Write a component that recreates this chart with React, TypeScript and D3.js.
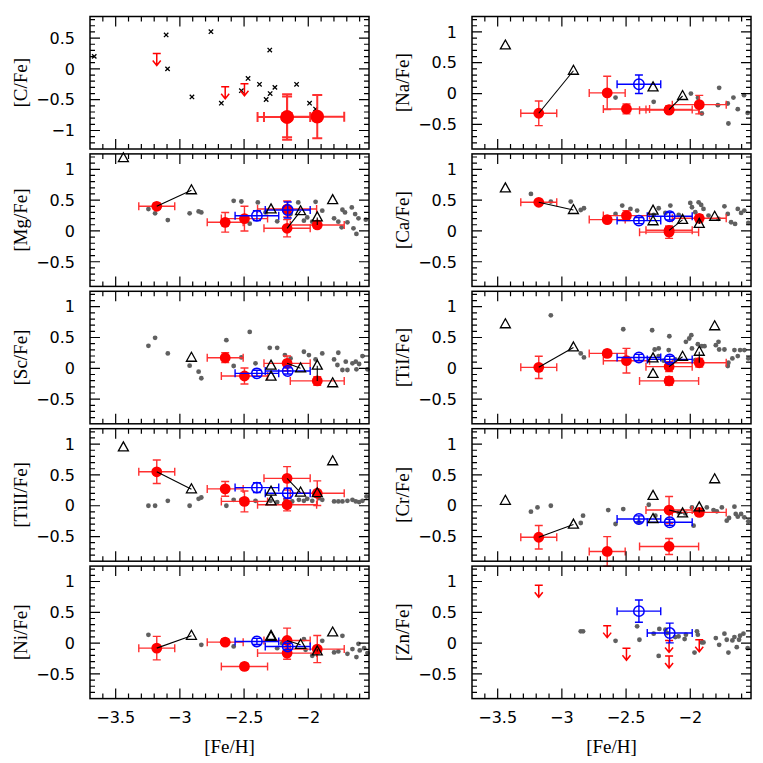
import React from "react";
import * as d3 from "d3";

// ---------- shared [Fe/H] of the stars ----------
const FEH_RED = [-3.18, -2.647, -2.497, -2.165, -2.165, -1.93];
const FEH_RED_ERR = [0.14, 0.14, 0.18, 0.23, 0.18, 0.21];
const FEH_BLUE = [-2.40, -2.16];
const FEH_BLUE_ERR = [0.17, 0.175];
const FEH_LIT = [-3.44, -2.91, -2.29, -2.29, -2.06, -1.93, -1.81];
const LINK_PAIRS = [[0, 1], [4, 4], [5, 5]];

const X_TICKS = [-3.5, -3, -2.5, -2];
const Y_TICKS = [-0.5, 0, 0.5, 1];
const C_Y_TICKS = [-1, -0.5, 0, 0.5];

// ---------- [C/Fe] ----------
const C_RED = [null, null, null, -0.78, -0.78, -0.775];
const C_RED_ERR = [0, 0, 0, 0.37, 0.33, 0.35];
const C_UL = [0.25, -0.29, -0.24, null, null, null];
const C_CROSS = [
  [-3.667, 0.203], [-3.107, 0.551], [-3.096, 0.0], [-2.758, 0.604], [-2.906, -0.455],
  [-2.677, -0.556], [-2.521, -0.353], [-2.469, -0.155], [-2.38, -0.251], [-2.3, 0.305],
  [-2.26, -0.3], [-2.297, -0.4], [-2.328, -0.497], [-2.091, -0.251], [-1.99, -0.556],
  [-1.943, -0.652],
];

// ---------- [Na/Fe] ----------
const NA_RED = [-0.32, 0.01, -0.25, -0.27, -0.26, -0.18];
const NA_RED_ERR = [0.2, 0.27, 0.08, 0.05, 0.06, 0.15];
const NA_BLUE = [0.151, null];
const NA_BLUE_ERR = [0.15, 0];
const NA_LIT = [0.78, 0.37, 0.1, null, -0.04, null, null];
const NA_GREY = [
  [-2.582, -0.065], [-2.285, -0.135], [-1.995, 0.0], [-1.94, -0.07], [-1.93, -0.216],
  [-1.91, -0.324], [-1.775, 0.092], [-1.785, -0.189], [-1.708, -0.162], [-1.664, -0.065],
  [-1.703, -0.486], [-1.63, -0.254], [-1.581, -0.027], [-1.553, -0.314],
];

// ---------- [Mg/Fe] ----------
const MG_RED = [0.4, 0.14, 0.2, 0.355, 0.043, 0.097];
const MG_RED_ERR = [0.05, 0.16, 0.2, 0.13, 0.14, 0.05];
const MG_BLUE = [0.247, 0.339];
const MG_BLUE_ERR = [0.08, 0.13];
const MG_LIT = [1.18, 0.66, 0.35, null, 0.32, 0.22, 0.5];
const MG_GREY = [
  [-3.245, 0.355], [-3.193, 0.285], [-3.094, 0.177], [-2.924, 0.285], [-2.854, 0.317],
  [-2.833, 0.301], [-2.581, 0.489], [-2.521, 0.478], [-2.393, 0.462], [-2.456, 0.118],
  [-2.333, 0.301], [-2.242, 0.156], [-2.138, 0.274], [-2.078, 0.462], [-2.034, 0.167],
  [-2.008, 0.22], [-1.943, 0.473], [-1.969, 0.151], [-1.891, 0.328], [-1.799, 0.204],
  [-1.766, 0.151], [-1.734, 0.344], [-1.714, 0.301], [-1.74, 0.059], [-1.661, 0.382],
  [-1.635, 0.274], [-1.648, 0.043], [-1.695, 0.14], [-1.625, -0.048], [-1.609, 0.204],
  [-1.552, 0.183],
];

// ---------- [Ca/Fe] ----------
const CA_RED = [0.465, 0.184, 0.249, -0.02, 0.01, 0.205];
const CA_RED_ERR = [0.04, 0.04, 0.08, 0.1, 0.06, 0.06];
const CA_BLUE = [0.168, 0.238];
const CA_BLUE_ERR = [0.05, 0.06];
const CA_LIT = [0.69, 0.34, 0.33, 0.157, 0.18, 0.114, 0.23];
const CA_GREY = [
  [-3.241, 0.6], [-3.086, 0.476], [-2.931, 0.476], [-2.853, 0.34], [-2.828, 0.368],
  [-2.582, 0.276], [-2.53, 0.411], [-2.466, 0.357], [-2.414, 0.33], [-2.285, 0.26],
  [-2.246, 0.368], [-2.194, 0.292], [-2.155, 0.411], [-2.09, 0.26], [-2.0, 0.454],
  [-1.987, 0.384], [-1.961, 0.303], [-1.935, 0.465], [-1.915, 0.422], [-1.897, 0.357],
  [-1.858, 0.249], [-1.78, 0.195], [-1.734, 0.4], [-1.708, 0.276], [-1.682, 0.141],
  [-1.651, 0.114], [-1.63, 0.357], [-1.604, 0.292], [-1.579, 0.33], [-1.548, 0.13],
];

// ---------- [Sc/Fe] ----------
const SC_RED = [null, 0.172, -0.124, null, 0.081, -0.204];
const SC_RED_ERR = [0, 0.08, 0.13, 0, 0.12, 0.07];
const SC_BLUE = [-0.081, -0.043];
const SC_BLUE_ERR = [0.05, 0.05];
const SC_LIT = [null, 0.172, 0.043, -0.134, 0.0, 0.043, -0.242];
const SC_GREY = [
  [-3.245, 0.366], [-3.193, 0.495], [-3.094, 0.242], [-2.924, 0.043], [-2.854, -0.054],
  [-2.833, -0.161], [-2.638, 0.457], [-2.581, 0.038], [-2.521, 0.177], [-2.456, 0.591],
  [-2.411, 0.081], [-2.3, 0.333], [-2.242, 0.333], [-2.182, 0.215], [-2.138, 0.161],
  [-2.034, 0.269], [-1.995, 0.215], [-1.943, 0.145], [-1.891, 0.242], [-1.799, 0.145],
  [-1.773, 0.054], [-1.766, 0.253], [-1.734, -0.027], [-1.695, -0.027], [-1.708, 0.108],
  [-1.656, 0.081], [-1.63, 0.108], [-1.604, 0.07], [-1.578, 0.199], [-1.625, -0.016],
  [-1.539, -0.016],
];

// ---------- [TiI/Fe] ----------
const TI_RED = [0.016, 0.242, 0.124, -0.204, 0.027, 0.091];
const TI_RED_ERR = [0.18, 0.05, 0.2, 0.07, 0.08, 0.07];
const TI_BLUE = [0.177, 0.145];
const TI_BLUE_ERR = [0.05, 0.05];
const TI_LIT = [0.715, 0.339, 0.161, -0.091, 0.188, 0.269, 0.683];
const TI_GREY = [
  [-3.086, 0.86], [-2.853, 0.242], [-2.828, 0.177], [-2.522, 0.634], [-2.297, 0.618],
  [-2.277, 0.306], [-2.246, 0.323], [-2.246, 0.199], [-2.207, 0.124], [-2.168, 0.296],
  [-2.163, 0.521], [-2.117, 0.145], [-2.034, 0.43], [-2.008, 0.484], [-1.992, 0.538],
  [-1.987, 0.323], [-1.961, 0.134], [-1.941, 0.392], [-1.91, 0.36], [-1.889, 0.36],
  [-1.801, 0.376], [-1.78, 0.43], [-1.775, 0.306], [-1.734, 0.306], [-1.708, 0.038],
  [-1.703, 0.091], [-1.672, 0.161], [-1.63, 0.199], [-1.656, 0.296], [-1.612, 0.296],
  [-1.579, 0.296], [-1.548, 0.161],
];

// ---------- [TiII/Fe] ----------
const TI2_RED = [0.551, 0.273, 0.07, 0.016, 0.444, 0.203];
const TI2_RED_ERR = [0.19, 0.12, 0.17, 0.1, 0.19, 0.2];
const TI2_BLUE = [0.294, 0.203];
const TI2_BLUE_ERR = [0.08, 0.08];
const TI2_LIT = [0.947, 0.267, 0.23, 0.07, 0.214, 0.203, 0.722];
const TI2_GREY = [
  [-3.245, 0.0], [-3.193, 0.0], [-3.094, 0.08], [-2.924, 0.0], [-2.854, 0.112],
  [-2.833, 0.134], [-2.638, 0.0], [-2.581, 0.096], [-2.521, 0.096], [-2.411, 0.08],
  [-2.294, 0.08], [-2.242, 0.059], [-2.177, 0.096], [-2.125, 0.07], [-2.073, 0.096],
  [-2.034, 0.08], [-2.008, 0.112], [-1.969, 0.08], [-1.917, 0.123], [-1.891, 0.096],
  [-1.799, 0.07], [-1.766, 0.07], [-1.734, 0.07], [-1.695, 0.08], [-1.656, 0.096],
  [-1.63, 0.07], [-1.604, 0.059], [-1.578, 0.08], [-1.547, 0.15],
];

// ---------- [Cr/Fe] ----------
const CR_RED = [-0.511, -0.742, null, -0.661, -0.07, -0.108];
const CR_RED_ERR = [0.19, 0.24, 0, 0.13, 0.22, 0.05];
const CR_BLUE = [-0.215, -0.269];
const CR_BLUE_ERR = [0.05, 0.05];
const CR_LIT = [0.08, -0.306, 0.161, -0.215, -0.124, -0.027, 0.43];
const CR_GREY = [
  [-3.241, -0.097], [-3.19, -0.027], [-3.086, 0.0], [-2.853, -0.28], [-2.835, -0.161],
  [-2.639, -0.07], [-2.582, -0.296], [-2.522, -0.054], [-2.401, -0.269], [-2.323, 0.016],
  [-2.272, -0.161], [-2.09, -0.108], [-2.039, -0.124], [-1.987, -0.027], [-1.974, -0.323],
  [-1.961, -0.091], [-1.91, -0.07], [-1.871, -0.027], [-1.819, -0.07], [-1.793, -0.091],
  [-1.754, -0.027], [-1.716, -0.242], [-1.698, -0.199], [-1.656, -0.016], [-1.646, -0.134],
  [-1.63, -0.177], [-1.604, -0.134], [-1.579, -0.188], [-1.548, -0.253],
];

// ---------- [Ni/Fe] ----------
const NI_RED = [-0.081, 0.016, -0.378, -0.162, 0.043, -0.097];
const NI_RED_ERR = [0.19, 0.05, 0.05, 0.1, 0.2, 0.22];
const NI_BLUE = [0.027, -0.054];
const NI_BLUE_ERR = [0.05, 0.05];
const NI_LIT = [null, 0.119, 0.119, 0.1, -0.027, -0.135, 0.173];
const NI_GREY = [
  [-3.245, 0.135], [-2.833, -0.027], [-2.581, -0.054], [-2.242, -0.081], [-2.203, 0.0],
  [-2.034, 0.065], [-2.021, -0.108], [-1.969, -0.205], [-1.891, 0.038], [-1.799, -0.151],
  [-1.766, -0.135], [-1.734, 0.119], [-1.695, -0.173], [-1.656, -0.097], [-1.625, -0.227],
  [-1.609, -0.011], [-1.599, -0.119], [-1.565, -0.081], [-1.539, -0.162],
];

// ---------- [Zn/Fe] ----------
const ZN_UL = [0.94, 0.284, -0.082, 0.044, -0.208, 0.055];
const ZN_BLUE = [0.519, 0.164];
const ZN_BLUE_ERR = [0.18, 0.16];
const ZN_GREY = [
  [-2.853, 0.191], [-2.835, 0.191], [-2.582, 0.038], [-2.414, 0.273], [-2.396, 0.055],
  [-2.285, 0.153], [-2.246, -0.208], [-2.241, 0.23], [-2.194, 0.219], [-2.181, 0.164],
  [-2.117, 0.098], [-2.091, 0.109], [-2.044, 0.066], [-2.034, 0.137], [-1.967, -0.153],
  [-1.948, 0.191], [-1.941, 0.137], [-1.91, 0.011], [-1.897, 0.011], [-1.801, 0.082],
  [-1.775, -0.027], [-1.734, 0.153], [-1.716, 0.055], [-1.703, -0.153], [-1.672, 0.044],
  [-1.656, 0.098], [-1.638, -0.066], [-1.62, 0.055], [-1.612, 0.12], [-1.586, 0.153],
  [-1.553, -0.082],
];

type Panel = {
  label: string;
  yDomain: [number, number];
  yTicks: number[];
  red?: (number | null)[];
  redErr?: number[];
  ul?: (number | null)[];
  blue?: (number | null)[];
  blueErr?: number[];
  lit?: (number | null)[];
  grey?: number[][];
  cross?: number[][];
  big?: boolean;
};

const PANELS: Panel[] = [
  { label: "[C/Fe]", yDomain: [-1.3, 0.85], yTicks: C_Y_TICKS, red: C_RED, redErr: C_RED_ERR, ul: C_UL, cross: C_CROSS, big: true },
  { label: "[Na/Fe]", yDomain: [-0.9, 1.25], yTicks: Y_TICKS, red: NA_RED, redErr: NA_RED_ERR, blue: NA_BLUE, blueErr: NA_BLUE_ERR, lit: NA_LIT, grey: NA_GREY },
  { label: "[Mg/Fe]", yDomain: [-0.9, 1.25], yTicks: Y_TICKS, red: MG_RED, redErr: MG_RED_ERR, blue: MG_BLUE, blueErr: MG_BLUE_ERR, lit: MG_LIT, grey: MG_GREY },
  { label: "[Ca/Fe]", yDomain: [-0.9, 1.25], yTicks: Y_TICKS, red: CA_RED, redErr: CA_RED_ERR, blue: CA_BLUE, blueErr: CA_BLUE_ERR, lit: CA_LIT, grey: CA_GREY },
  { label: "[Sc/Fe]", yDomain: [-0.9, 1.25], yTicks: Y_TICKS, red: SC_RED, redErr: SC_RED_ERR, blue: SC_BLUE, blueErr: SC_BLUE_ERR, lit: SC_LIT, grey: SC_GREY },
  { label: "[TiI/Fe]", yDomain: [-0.9, 1.25], yTicks: Y_TICKS, red: TI_RED, redErr: TI_RED_ERR, blue: TI_BLUE, blueErr: TI_BLUE_ERR, lit: TI_LIT, grey: TI_GREY },
  { label: "[TiII/Fe]", yDomain: [-0.9, 1.25], yTicks: Y_TICKS, red: TI2_RED, redErr: TI2_RED_ERR, blue: TI2_BLUE, blueErr: TI2_BLUE_ERR, lit: TI2_LIT, grey: TI2_GREY },
  { label: "[Cr/Fe]", yDomain: [-0.9, 1.25], yTicks: Y_TICKS, red: CR_RED, redErr: CR_RED_ERR, blue: CR_BLUE, blueErr: CR_BLUE_ERR, lit: CR_LIT, grey: CR_GREY },
  { label: "[Ni/Fe]", yDomain: [-0.9, 1.25], yTicks: Y_TICKS, red: NI_RED, redErr: NI_RED_ERR, blue: NI_BLUE, blueErr: NI_BLUE_ERR, lit: NI_LIT, grey: NI_GREY },
  { label: "[Zn/Fe]", yDomain: [-0.9, 1.25], yTicks: Y_TICKS, ul: ZN_UL, blue: ZN_BLUE, blueErr: ZN_BLUE_ERR, grey: ZN_GREY },
];

// ---------- layout ----------
const X_DOMAIN: [number, number] = [-3.7, -1.527];
const COL_X = [90, 472];
const PW = 279;
const ROW_TOP = 16.5;
const ROW_STEP = 137.4;
const PH = 132.5;
const RED = "#ff0000";
const RED_BAR = "#ff3030";
const BLUE = "#0000ff";
const GREY = "#606060";
const NUM_FONT = "'DejaVu Sans', 'Liberation Sans', sans-serif";
const TITLE_FONT = "'Liberation Serif', 'DejaVu Serif', serif";

const fmt = (v: number) => (v < 0 ? "\u2212" + Math.abs(v) : String(v));

function PanelView({ p, col, row, bottom }: { p: Panel; col: number; row: number; bottom: boolean }) {
  const x0 = COL_X[col];
  const y0 = ROW_TOP + row * ROW_STEP;
  const x = d3.scaleLinear().domain(X_DOMAIN).range([x0, x0 + PW]);
  const y = d3.scaleLinear().domain(p.yDomain).range([y0 + PH, y0]);
  const big = !!p.big;
  const rRed = big ? 6.8 : 5.4;
  const sw = big ? 2 : 1.4;
  const cap = big ? 5 : 4;

  const xMinor = d3.range(-37, -15).map((v) => v / 10);
  const yMinor = d3.range(Math.ceil(p.yDomain[0] * 10), Math.floor(p.yDomain[1] * 10) + 1).map((v) => v / 10);
  const isMajor = (v: number) => Math.abs(v * 2 - Math.round(v * 2)) < 1e-6;

  const tickPaths: string[] = [];
  xMinor.forEach((v) => {
    const len = isMajor(v) ? 10 : 5;
    const px = x(v);
    if (px < x0 + 0.5 || px > x0 + PW - 0.5) return;
    tickPaths.push(`M${px},${y0 + PH}v${-len}`);
    tickPaths.push(`M${px},${y0}v${len}`);
  });
  yMinor.forEach((v) => {
    const len = isMajor(v) ? 10 : 5;
    const py = y(v);
    if (py < y0 + 0.5 || py > y0 + PH - 0.5) return;
    tickPaths.push(`M${x0},${py}h${len}`);
    tickPaths.push(`M${x0 + PW},${py}h${-len}`);
  });

  const elements: React.ReactNode[] = [];

  (p.grey || []).forEach((d, i) =>
    elements.push(<circle key={`g${i}`} cx={x(d[0])} cy={y(d[1])} r={2.4} fill={GREY} />)
  );
  (p.cross || []).forEach((d, i) => {
    const cx = x(d[0]), cy = y(d[1]), s = 2.2;
    elements.push(
      <path key={`c${i}`} d={`M${cx - s},${cy - s}L${cx + s},${cy + s}M${cx - s},${cy + s}L${cx + s},${cy - s}`} stroke="#000" strokeWidth={1.3} />
    );
  });

  const errorBars = (fx: number, ex: number, fy: number, ey: number, color: string, key: string) => {
    const cx = x(fx), cy = y(fy);
    const xl = x(fx - ex), xr = x(fx + ex);
    const parts = [`M${xl},${cy}H${xr}`, `M${xl},${cy - cap}v${2 * cap}`, `M${xr},${cy - cap}v${2 * cap}`];
    if (ey > 0) {
      const yt = y(fy + ey), yb = y(fy - ey);
      parts.push(`M${cx},${yt}V${yb}`, `M${cx - cap},${yt}h${2 * cap}`, `M${cx - cap},${yb}h${2 * cap}`);
    }
    return <path key={key} d={parts.join("")} stroke={color} strokeWidth={sw} fill="none" />;
  };

  (p.red || []).forEach((v, i) => {
    if (v == null) return;
    elements.push(errorBars(FEH_RED[i], FEH_RED_ERR[i], v, (p.redErr || [])[i] || 0, RED_BAR, `re${i}`));
  });
  (p.red || []).forEach((v, i) => {
    if (v == null) return;
    elements.push(<circle key={`rc${i}`} cx={x(FEH_RED[i])} cy={y(v)} r={rRed} fill={RED} />);
  });
  (p.ul || []).forEach((v, i) => {
    if (v == null) return;
    const cx = x(FEH_RED[i]), cy = y(v);
    const d = `M${cx - 4},${cy}h8M${cx},${cy}v12M${cx - 4},${cy + 7}L${cx},${cy + 12}L${cx + 4},${cy + 7}`;
    elements.push(<path key={`ul${i}`} d={d} stroke={RED} strokeWidth={1.5} fill="none" />);
  });
  (p.blue || []).forEach((v, i) => {
    if (v == null) return;
    elements.push(errorBars(FEH_BLUE[i], FEH_BLUE_ERR[i], v, (p.blueErr || [])[i] || 0, BLUE, `be${i}`));
    elements.push(<circle key={`bc${i}`} cx={x(FEH_BLUE[i])} cy={y(v)} r={5.2} fill="none" stroke={BLUE} strokeWidth={1.5} />);
  });
  if (p.red && p.lit) {
    LINK_PAIRS.forEach(([ri, li], k) => {
      const rv = p.red![ri], lv = p.lit![li];
      if (rv == null || lv == null) return;
      elements.push(
        <line key={`l${k}`} x1={x(FEH_RED[ri])} y1={y(rv)} x2={x(FEH_LIT[li])} y2={y(lv)} stroke="#000" strokeWidth={1.1} />
      );
    });
  }
  (p.lit || []).forEach((v, i) => {
    if (v == null) return;
    const cx = x(FEH_LIT[i]), cy = y(v);
    elements.push(
      <path key={`t${i}`} d={`M${cx},${cy - 5.5}L${cx + 5},${cy + 3.5}L${cx - 5},${cy + 3.5}Z`} fill="none" stroke="#000" strokeWidth={1.3} />
    );
  });

  const labelX = x0 - 15;
  return (
    <g>
      {elements}
      <path d={tickPaths.join("")} stroke="#000" strokeWidth={1.2} fill="none" />
      <rect x={x0} y={y0} width={PW} height={PH} fill="none" stroke="#000" strokeWidth={1.5} />
      {p.yTicks.map((t) => (
        <text key={`yt${t}`} x={labelX} y={y(t)} dy="0.36em" textAnchor="end" fontFamily={NUM_FONT} fontSize={16} fill="#000">
          {fmt(t)}
        </text>
      ))}
      <text
        transform={`translate(${x0 - 70},${y0 + PH / 2}) rotate(-90)`}
        textAnchor="middle"
        dy="0.35em"
        fontFamily={TITLE_FONT}
        fontSize={19}
        fill="#000"
      >
        {p.label}
      </text>
      {bottom &&
        X_TICKS.map((t) => (
          <text key={`xt${t}`} x={x(t)} y={y0 + PH + 24} textAnchor="middle" fontFamily={NUM_FONT} fontSize={16} fill="#000">
            {fmt(t)}
          </text>
        ))}
      {bottom && (
        <text x={x0 + PW / 2} y={y0 + PH + 54} textAnchor="middle" fontFamily={TITLE_FONT} fontSize={19} fill="#000">
          [Fe/H]
        </text>
      )}
    </g>
  );
}

export default function App() {
  return (
    <svg width={763} height={763} style={{ position: "absolute", left: 0, top: 0, background: "#fff" }}>
      <rect x={0} y={0} width={763} height={763} fill="#fff" />
      {PANELS.map((p, i) => (
        <PanelView key={p.label} p={p} col={i % 2} row={Math.floor(i / 2)} bottom={Math.floor(i / 2) === 4} />
      ))}
    </svg>
  );
}
